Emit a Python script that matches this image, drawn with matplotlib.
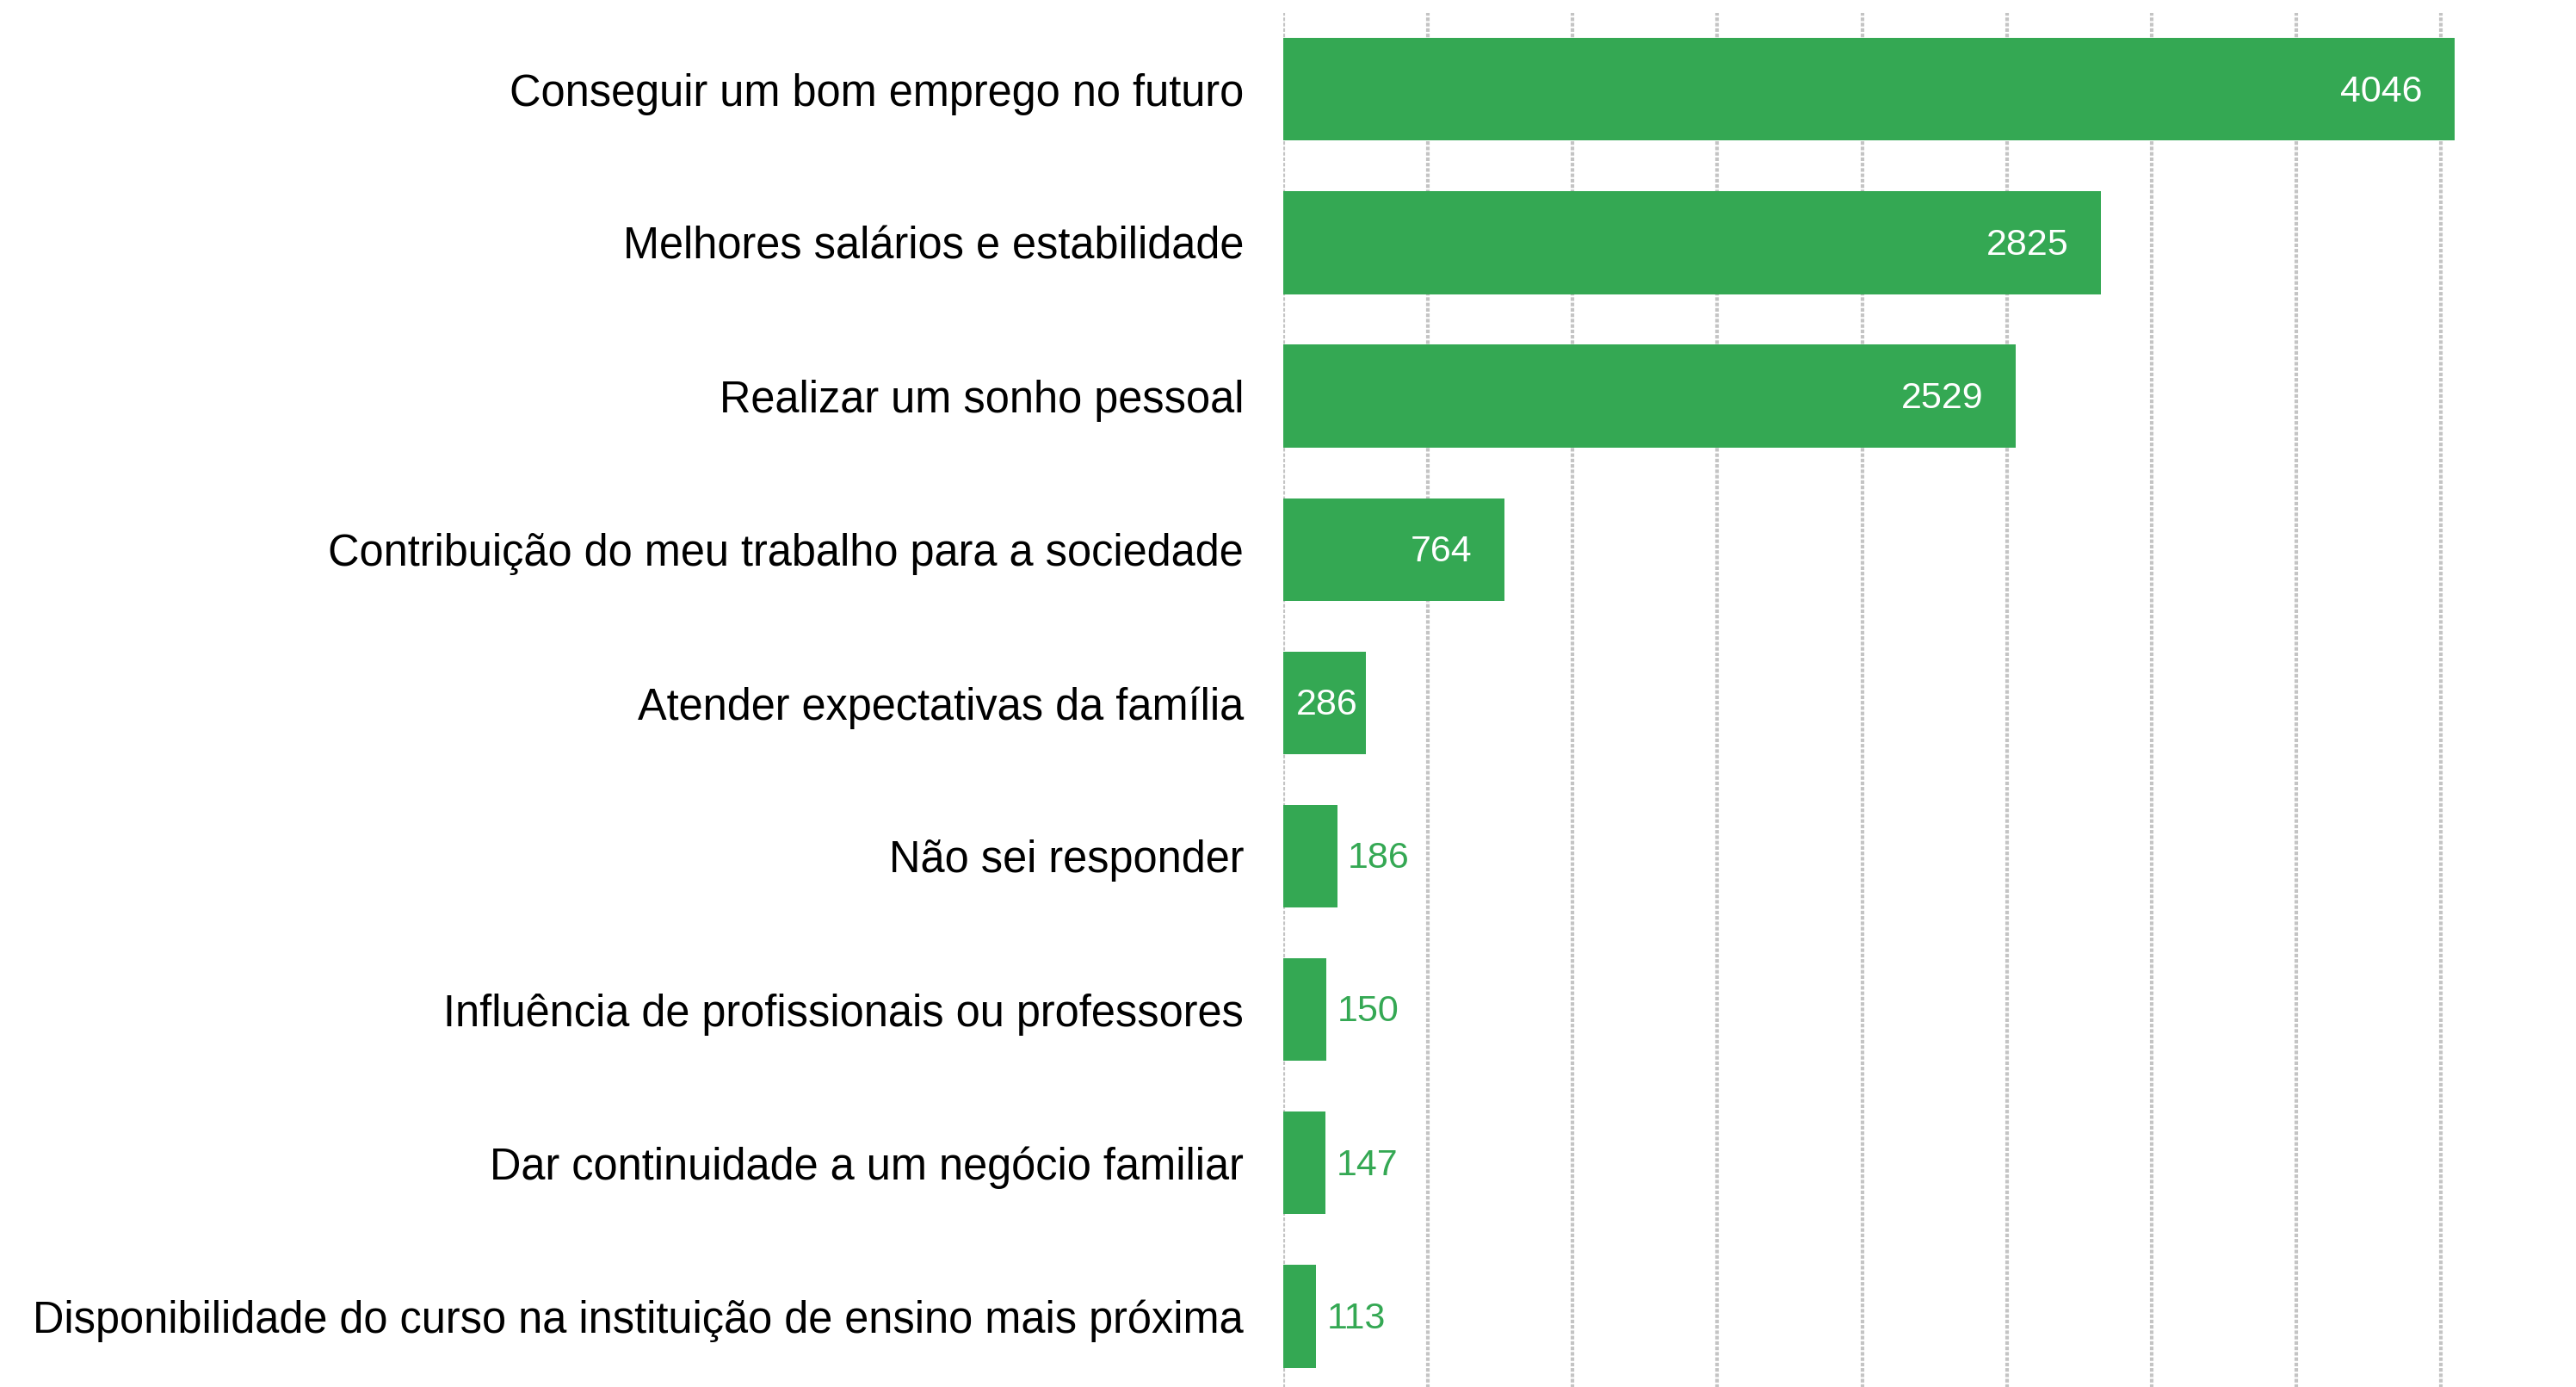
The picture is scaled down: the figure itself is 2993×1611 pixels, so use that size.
import matplotlib
matplotlib.use("Agg")
import matplotlib.pyplot as plt

categories = [
    "Conseguir um bom emprego no futuro",
    "Melhores salários e estabilidade",
    "Realizar um sonho pessoal",
    "Contribuição do meu trabalho para a sociedade",
    "Atender expectativas da família",
    "Não sei responder",
    "Influência de profissionais ou professores",
    "Dar continuidade a um negócio familiar",
    "Disponibilidade do curso na instituição de ensino mais próxima",
]
values = [4046, 2825, 2529, 764, 286, 186, 150, 147, 113]
x_ticks = [0, 500, 1000, 1500, 2000, 2500, 3000, 3500, 4000]

GREEN = "#34A853"
FONT = "Liberation Sans"

W, H, DPI = 2993, 1611, 100
fig = plt.figure(figsize=(W / DPI, H / DPI), dpi=DPI)
fig.patch.set_facecolor("white")

left = 1491 / W
right_px = 1491 + 4500 * 0.3363
top = 1 - 14.7 / H
bottom = 1 - 1618 / H
ax = fig.add_axes([left, bottom, (right_px - 1491) / W, top - bottom])

y = list(range(len(categories)))
ax.barh(y, values, height=0.67, color=GREEN, zorder=2)
ax.set_ylim(len(categories) - 0.5, -0.5)
ax.set_xlim(0, 4500)

ax.set_xticks(x_ticks)
ax.xaxis.grid(True, color="#c4c4c4", linestyle=(0, (1.0, 0.5)), linewidth=3.0, zorder=0)
ax.tick_params(axis="x", length=0, labelbottom=False)
ax.set_yticks(y)
ax.set_yticklabels(categories, fontsize=36.4, family=FONT, color="#000000")
ax.tick_params(axis="y", length=0, pad=33)
for s in ax.spines.values():
    s.set_visible(False)

for yi, v in zip(y, values):
    label = str(v)
    if v >= 500:
        ax.annotate(label, (v, yi), xytext=(-27, -2), textcoords="offset points",
                    ha="right", va="center", color="white", fontsize=31, family=FONT, zorder=3)
    elif v >= 250:
        ax.annotate(label, (v / 2, yi), xytext=(2, -2), textcoords="offset points",
                    ha="center", va="center", color="white", fontsize=31, family=FONT, zorder=3)
    else:
        ax.annotate(label, (v, yi), xytext=(9, -2), textcoords="offset points",
                    ha="left", va="center", color=GREEN, fontsize=31, family=FONT, zorder=3)

fig.savefig("out.png", dpi=DPI, facecolor="white")
